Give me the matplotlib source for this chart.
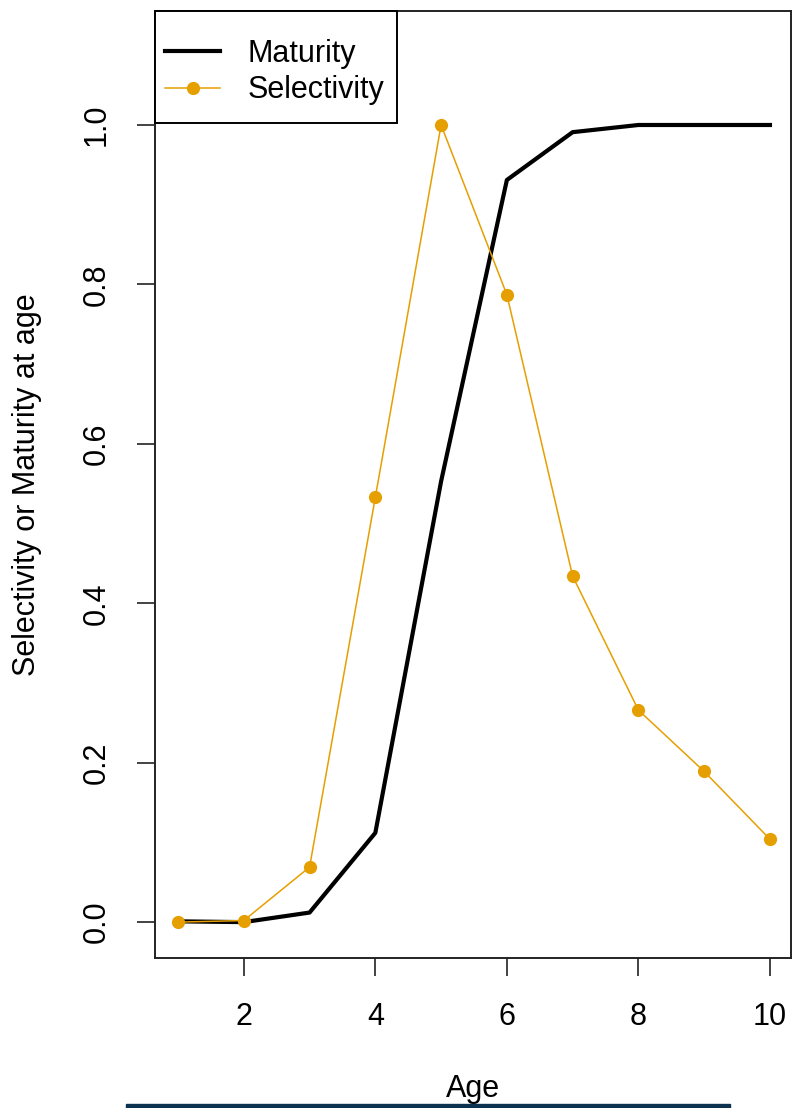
import matplotlib.pyplot as plt
from matplotlib.patches import Rectangle

plt.rcParams['font.family'] = ['Liberation Sans', 'DejaVu Sans']

# values
age = [1, 2, 3, 4, 5, 6, 7, 8, 9, 10]
maturity = [0.001, 0.0, 0.012, 0.112, 0.553, 0.931, 0.991, 1.0, 1.0, 1.0]
selectivity = [0.0, 0.002, 0.069, 0.533, 1.0, 0.787, 0.434, 0.266, 0.189, 0.104]
xticks = [2, 4, 6, 8, 10]
yticks = [0.0, 0.2, 0.4, 0.6, 0.8, 1.0]

orange = '#E69F00'
fs = 22

fig = plt.figure(figsize=(7.92, 11.08), dpi=100)
ax = fig.add_axes([155 / 792, (1108 - 958) / 1108, 636 / 792, 947 / 1108])

ax.plot(age, maturity, color='black', lw=3.0, label='Maturity')
ax.plot(age, selectivity, color=orange, lw=1.1, marker='o', markersize=9.5,
        markeredgewidth=0, label='Selectivity')

ax.set_xlim(0.65, 10.32)
ax.set_ylim(-0.045, 1.143)
ax.set_xticks(xticks)
ax.set_xticklabels([str(t) for t in xticks])
ax.set_yticks(yticks)
ax.set_yticklabels(['%.1f' % t for t in yticks], rotation=90, va='center')

ax.tick_params(axis='both', length=13, width=1.2, labelsize=fs, color='#222222')
ax.tick_params(axis='y', pad=18)
ax.tick_params(axis='x', pad=19)
for s in ax.spines.values():
    s.set_linewidth(1.4)
    s.set_color('#222222')

ax.set_xlabel('Age', fontsize=fs)
ax.set_ylabel('Selectivity or Maturity at age', fontsize=fs)
ax.xaxis.set_label_coords(0.5, -0.123)
ax.yaxis.set_label_coords(-0.178, 0.5)

# R-style legend: entries without frame, box drawn separately
leg = ax.legend(loc='upper left', bbox_to_anchor=(10 / 636, (958 - 39) / 947),
                borderaxespad=0, borderpad=0, fontsize=fs, frameon=False,
                handlelength=1.8, handletextpad=0.9, labelspacing=0.21)
ax.add_patch(Rectangle((0, 1 - 112 / 947), 242 / 636, 112 / 947,
                       transform=ax.transAxes, fill=True, facecolor='white',
                       edgecolor='black', lw=1.4, zorder=4, clip_on=False))
leg.set_zorder(5)

# dark strip along the bottom edge of the reference image
fig.patches.append(Rectangle((126 / 792, 0), 604 / 792, 4 / 1108,
                             transform=fig.transFigure, color='#0b3350'))

fig.savefig('out.png', dpi=100)
